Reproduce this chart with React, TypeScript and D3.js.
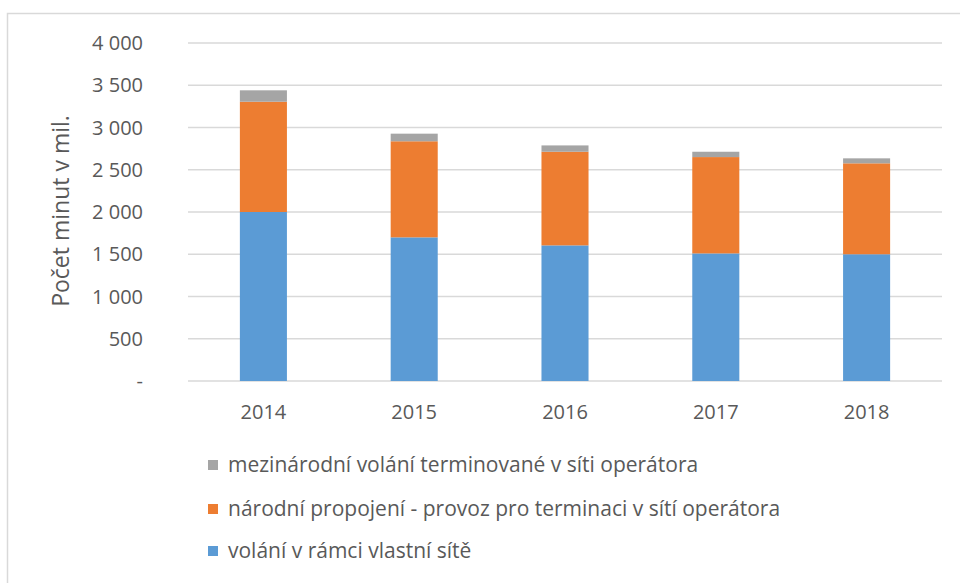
import React from "react";
import * as d3 from "d3";

const categories = ["2014", "2015", "2016", "2017", "2018"];
const ownNetwork = [2000, 1700, 1605, 1510, 1500];
const nationalInterconnect = [1305, 1137, 1108, 1140, 1076];
const internationalTerminated = [135, 90, 75, 63, 59];
const yTicks = [0, 500, 1000, 1500, 2000, 2500, 3000, 3500, 4000];
const tickLabels = ["-", "500", "1 000", "1 500", "2 000", "2 500", "3 000", "3 500", "4 000"];
const seriesNames = [
  "volání v rámci vlastní sítě",
  "národní propojení - provoz pro terminaci v sítí operátora",
  "mezinárodní volání terminované v síti operátora",
];
const seriesColors = ["#5b9bd5", "#ed7d31", "#a5a5a5"];

const W = 960;
const H = 583;
const FONT = "'Open Sans', sans-serif";

export default function App() {
  const x = d3.scaleBand<string>().domain(categories).range([188, 942]).paddingInner(0.688).paddingOuter(0.344);
  const y = d3.scaleLinear().domain([0, 4000]).range([381, 43]);

  const rows = categories.map((c, i) => ({
    cat: c,
    s0: ownNetwork[i],
    s1: nationalInterconnect[i],
    s2: internationalTerminated[i],
  }));
  const stack = d3.stack<any>().keys(["s0", "s1", "s2"]);
  const layers = stack(rows);

  const legendOrder = [2, 1, 0];
  const legendY = [465, 509, 551];

  return (
    <svg width={W} height={H} style={{ position: "absolute", left: 0, top: 0, background: "#fff" }}>
      <rect x={0} y={0} width={W} height={H} fill="#fff" />
      <path d="M7.5,583 V13.5 H960" fill="none" stroke="#d9d9d9" strokeWidth={1.5} />
      {yTicks.map((t, i) => (
        <g key={t}>
          <line x1={188} x2={942} y1={y(t)} y2={y(t)} stroke="#d9d9d9" strokeWidth={1.5} />
          <text x={143} y={y(t)} dy="0.35em" textAnchor="end" fontFamily={FONT} fontSize={20} fill="#595959">
            {tickLabels[i]}
          </text>
        </g>
      ))}
      {layers.map((layer, li) =>
        layer.map((d: any, i: number) => (
          <rect
            key={li + "-" + i}
            x={x(categories[i])}
            width={x.bandwidth()}
            y={y(d[1])}
            height={y(d[0]) - y(d[1])}
            fill={seriesColors[li]}
          />
        ))
      )}
      {categories.map((c) => (
        <text key={c} x={(x(c) as number) + x.bandwidth() / 2} y={412} dy="0.35em" textAnchor="middle" fontFamily={FONT} fontSize={20} fill="#595959">
          {c}
        </text>
      ))}
      <text transform={`translate(61,211) rotate(-90)`} textAnchor="middle" dy="0.35em" fontFamily={FONT} fontSize={23} fill="#595959">
        Počet minut v mil.
      </text>
      {legendOrder.map((si, k) => (
        <g key={si}>
          <rect x={208} y={legendY[k] - 5} width={10} height={10} fill={seriesColors[si]} />
          <text x={228} y={legendY[k]} dy="0.35em" fontFamily={FONT} fontSize={21} fill="#595959">
            {seriesNames[si]}
          </text>
        </g>
      ))}
    </svg>
  );
}
